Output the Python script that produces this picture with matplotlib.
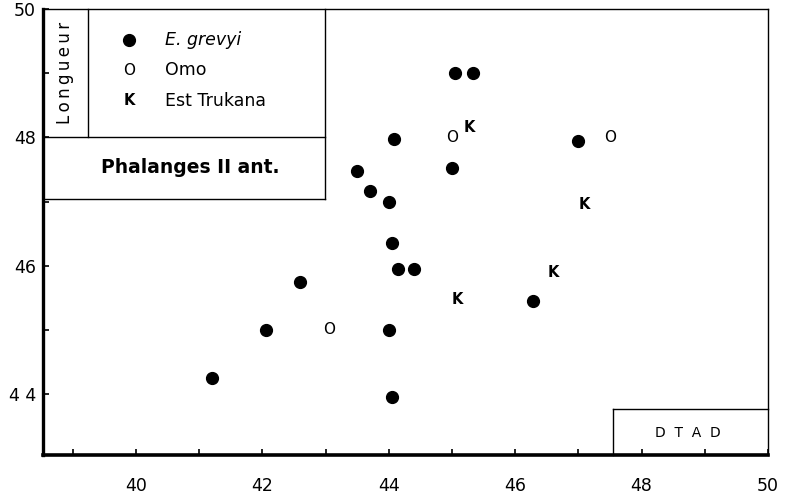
"""Phalanges II ant. : Longueur vs DTAD scatter (E. grevyi, Omo, Est Trukana)."""

import matplotlib
matplotlib.use("Agg")
import matplotlib.pyplot as plt
from matplotlib.lines import Line2D

# --------------------------------------------------------------------------- #
# Data
# --------------------------------------------------------------------------- #

grevyi_dtad = [41.2, 42.05, 42.6, 44.0, 44.05, 44.05, 44.15, 44.4, 44.0, 44.08,
               43.5, 43.7, 45.0, 47.0, 46.28, 45.05, 45.33]
grevyi_long = [44.25, 45.0, 45.75, 45.0, 43.95, 46.35, 45.95, 45.95, 47.0, 47.97,
               47.48, 47.17, 47.52, 47.95, 45.45, 49.0, 49.0]

omo_dtad = [43.05, 45.0, 47.5]
omo_long = [45.0, 48.0, 48.0]

trukana_dtad = [45.27, 47.1, 46.6, 45.08]
trukana_long = [48.15, 46.95, 45.9, 45.48]

xticks = [40, 42, 44, 46, 48, 50]
yticks = [44, 46, 48, 50]
xticklabels = ["40", "42", "44", "46", "48", "50"]
yticklabels = ["4 4", "46", "48", "50"]

legend_labels = ["E. grevyi", "Omo", "Est Trukana"]

THIN = "\u2009"

# --------------------------------------------------------------------------- #
# Plot
# --------------------------------------------------------------------------- #

plt.rcParams["font.family"] = ["DejaVu Sans"]

fig = plt.figure(figsize=(7.88, 5.01), dpi=100)
ax = fig.add_axes([0.0546, 0.0918, 0.92, 0.8902])

ax.set_xlim(38.53, 50.0)
ax.set_ylim(43.05, 50.0)

ax.plot(grevyi_dtad, grevyi_long, "o", color="black", ms=8.5, mec="black")
for x, y in zip(omo_dtad, omo_long):
    ax.text(x, y, "O", ha="center", va="center", fontsize=11, color="black")
for x, y in zip(trukana_dtad, trukana_long):
    ax.text(x, y, "K", ha="center", va="center", fontsize=10.5,
            fontweight="bold", color="black")

# axes styling: heavy left/bottom, thin top/right, inward ticks
ax.spines["left"].set_linewidth(2.4)
ax.spines["bottom"].set_linewidth(2.6)
ax.spines["top"].set_linewidth(1.0)
ax.spines["right"].set_linewidth(1.0)

ax.set_xticks(xticks)
ax.set_yticks(yticks)
ax.set_xticklabels(xticklabels)
ax.set_yticklabels(yticklabels)
ax.set_xticks(range(39, 50), minor=True)
ax.set_yticks(range(44, 50), minor=True)
ax.tick_params(which="both", direction="in", length=4, width=1.2, color="black")
ax.tick_params(axis="x", which="major", pad=16, labelsize=12.5)
ax.tick_params(axis="y", which="major", pad=5, labelsize=12.5)

# legend box with cells
box_kw = dict(color="black", lw=1.0, transform=ax.transAxes, clip_on=False)
ax.add_line(Line2D([0, 0.389], [0.574, 0.574], **box_kw))
ax.add_line(Line2D([0.389, 0.389], [0.574, 1.0], **box_kw))
ax.add_line(Line2D([0, 0.389], [0.713, 0.713], **box_kw))
ax.add_line(Line2D([0.062, 0.062], [0.713, 1.0], **box_kw))

ax.text(0.031, 0.857, THIN.join("Longueur"), rotation=90, ha="center",
        va="center", fontsize=12, transform=ax.transAxes)
ax.text(0.203, 0.644, "Phalanges II ant.", ha="center", va="center",
        fontsize=13.5, fontweight="bold", transform=ax.transAxes)

leg_y = [0.930, 0.863, 0.794]
ax.plot(0.119, leg_y[0], "o", color="black", ms=8.5, transform=ax.transAxes)
ax.text(0.119, leg_y[1], "O", ha="center", va="center", fontsize=11,
        transform=ax.transAxes)
ax.text(0.119, leg_y[2], "K", ha="center", va="center", fontsize=10.5,
        fontweight="bold", transform=ax.transAxes)
for lab, y in zip(legend_labels, leg_y):
    style = "italic" if lab.startswith("E.") else "normal"
    ax.text(0.168, y, lab, ha="left", va="center", fontsize=12.5,
            style=style, transform=ax.transAxes)

# DTAD box in the lower right corner
ax.add_line(Line2D([0.786, 0.786], [0, 0.103], **box_kw))
ax.add_line(Line2D([0.786, 1.0], [0.103, 0.103], **box_kw))
ax.text(0.889, 0.05, "D  T  A  D", ha="center", va="center", fontsize=10,
        transform=ax.transAxes)

fig.savefig("out.png", dpi=100)
